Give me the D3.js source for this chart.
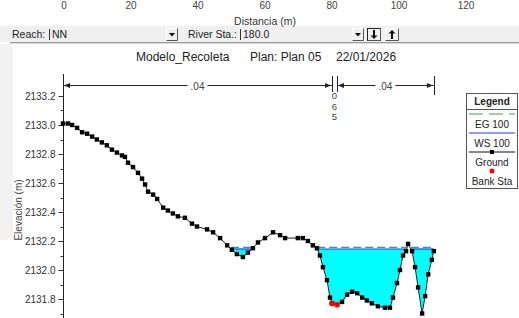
<!DOCTYPE html>
<html>
<head>
<meta charset="utf-8">
<script src="https://cdn.jsdelivr.net/npm/d3@7"></script>
<style>
  body{margin:0;background:#fff;}
  svg{display:block;font-family:"Liberation Sans",Arial,sans-serif;}
</style>
</head>
<body>
<svg id="chart" width="519" height="318"></svg>
<script>
'use strict'

// cross section data: station (m), elevation (m)
const stations = [0.0,1.5,2.7,4.2,5.7,7.2,8.7,10.1,11.6,13.1,14.6,16.1,17.6,18.5,19.4,20.9,22.4,23.6,24.5,25.4,
  26.9,28.1,29.9,31.3,32.8,34.3,36.4,38.5,40.0,43.0,44.8,46.9,49.0,50.4,51.9,53.7,55.2,56.7,58.2,60.3,
  62.7,64.8,66.3,70.1,71.6,73.1,74.6,75.8,76.7,77.6,78.8,79.7,80.3,81.8,83.3,84.8,86.3,87.8,89.3,90.7,
  92.2,94.0,96.1,97.6,98.5,99.7,100.6,101.5,102.4,103.0,104.2,105.1,106.0,107.2,108.1,109.0,110.1,110.7]
const elevations = [2133.01,2133.01,2133.00,2132.98,2132.95,2132.94,2132.92,2132.90,2132.88,2132.86,2132.83,2132.81,2132.79,2132.78,2132.74,2132.71,2132.67,2132.63,2132.59,2132.54,
  2132.52,2132.49,2132.43,2132.41,2132.39,2132.37,2132.36,2132.32,2132.30,2132.28,2132.26,2132.22,2132.17,2132.14,2132.11,2132.09,2132.12,2132.15,2132.19,2132.22,
  2132.26,2132.24,2132.22,2132.22,2132.22,2132.20,2132.17,2132.15,2132.10,2132.02,2131.93,2131.81,2131.77,2131.76,2131.78,2131.83,2131.85,2131.84,2131.81,2131.79,
  2131.77,2131.75,2131.74,2131.74,2131.81,2131.91,2132.00,2132.10,2132.13,2132.18,2132.13,2132.02,2131.88,2131.70,2131.82,2131.97,2132.07,2132.13]
const bankStations = [80.3, 81.8]
const wsElev = 2132.145   // WS 100
const egElev = 2132.156   // EG 100
// manning n regions
const nStarts = [0, 80.3, 81.8]
const nEnds = [80.3, 81.8, 110.7]
const nLabels = [".04", ".065", ".04"]
const yTicks = [2131.8, 2132.0, 2132.2, 2132.4, 2132.6, 2132.8, 2133.0, 2133.2]
const topTicks = [0, 20, 40, 60, 80, 100, 120]
const legendItems = ["EG 100", "WS 100", "Ground", "Bank Sta"]

const ground = stations.map((s,i)=>({s:s, z:elevations[i]}))

const svg = d3.select("#chart")
const x = d3.scaleLinear().domain([0,120]).range([63,465])
const y = d3.scaleLinear().domain([2131.8,2133.2]).range([299,96])

// window shadow on the left edge
svg.append("rect").attr("x",-6).attr("y",44).attr("width",19).attr("height",196)
  .attr("rx",7).attr("fill","#f2f2f2")

// tick labels of the plot behind (cut at the top)
svg.append("g").selectAll("text").data(topTicks).join("text")
  .attr("x",d=>x(d)+1).attr("y",9).attr("text-anchor","middle")
  .attr("font-size",10).attr("fill","#444").text(d=>d)

// toolbar
const bar = svg.append("g")
bar.append("rect").attr("x",0).attr("y",26).attr("width",519).attr("height",16).attr("fill","#f0f0f0")
bar.append("line").attr("x1",10).attr("x2",519).attr("y1",42.5).attr("y2",42.5).attr("stroke","#9a9a9a")
bar.append("line").attr("x1",10).attr("x2",519).attr("y1",43.5).attr("y2",43.5).attr("stroke","#dcdcdc")
svg.append("text").attr("x",265).attr("y",25).attr("text-anchor","middle")
  .attr("font-size",10.5).attr("fill","#333").text("Distancia (m)")
const tb = bar.append("g").attr("font-size",10.5).attr("fill","#222")
tb.append("text").attr("x",12).attr("y",38).text("Reach:")
tb.append("text").attr("x",52).attr("y",38).text("NN")
tb.append("text").attr("x",188).attr("y",38).text("River Sta.:")
tb.append("text").attr("x",243).attr("y",38).text("180.0")
bar.append("line").attr("x1",49.5).attr("x2",49.5).attr("y1",29).attr("y2",40).attr("stroke","#333")
bar.append("line").attr("x1",240.5).attr("x2",240.5).attr("y1",29).attr("y2",40).attr("stroke","#333")

function button(x0,w,glyph,pressed){
  const g = bar.append("g")
  g.append("rect").attr("x",x0+0.5).attr("y",28.5).attr("width",w).attr("height",12)
    .attr("fill","#f0f0f0").attr("stroke",pressed?"#222":"#fff")
  g.append("line").attr("x1",x0+w+0.5).attr("x2",x0+w+0.5).attr("y1",28.5).attr("y2",40.5).attr("stroke","#555")
  g.append("line").attr("x1",x0+0.5).attr("x2",x0+w+0.5).attr("y1",40.5).attr("y2",40.5).attr("stroke","#555")
  const cx = x0+w/2+0.5
  if (glyph==="tri") {
    g.append("path").attr("d",`M${cx-3},33 L${cx+3},33 L${cx},36.5 Z`).attr("fill","#111")
  } else {
    const dir = glyph==="down" ? 1 : -1
    const y0 = 34.5 - dir*4.5, y1 = 34.5 + dir*4.5
    g.append("line").attr("x1",cx).attr("x2",cx).attr("y1",y0).attr("y2",y1-dir*2)
      .attr("stroke","#111").attr("stroke-width",2)
    g.append("path").attr("d",`M${cx-3.5},${y1-dir*3.5} L${cx+3.5},${y1-dir*3.5} L${cx},${y1} Z`).attr("fill","#111")
  }
}
button(166,11,"tri")
button(352,11,"tri")
button(367,13,"down",true)
button(385,13,"up")

// title
const title = svg.append("g").attr("font-size",12).attr("fill","#222")
title.append("text").attr("x",136).attr("y",61).text("Modelo_Recoleta")
title.append("text").attr("x",250).attr("y",61).text("Plan: Plan 05")
title.append("text").attr("x",336).attr("y",61).text("22/01/2026")

// y axis
const yAxis = d3.axisLeft(y).tickValues(yTicks).tickFormat(d3.format(".1f")).tickSize(5).tickSizeOuter(0)
const gy = svg.append("g").attr("transform","translate(63.5,0)").call(yAxis)
gy.select(".domain").remove()
gy.selectAll("text").attr("font-size",10).attr("fill","#333").attr("font-family","Liberation Sans, Arial, sans-serif")
gy.selectAll("line").attr("stroke","#333")
gy.append("g").selectAll("line").data(d3.range(2131.7,2133.25,0.2)).join("line")
  .attr("x1",-3).attr("x2",0).attr("y1",d=>Math.round(y(d))+0.5).attr("y2",d=>Math.round(y(d))+0.5).attr("stroke","#333")
svg.append("line").attr("x1",63.5).attr("x2",63.5).attr("y1",74).attr("y2",318).attr("stroke","#222")
svg.append("text").attr("transform","translate(22,210) rotate(-90)").attr("text-anchor","middle")
  .attr("font-size",10).attr("fill","#444").text("Elevación (m)")

// manning n bar
const nG = svg.append("g").attr("stroke","#222").attr("fill","#222")
const nY = 85.5
function arrowHead(px,dir){
  nG.append("path").attr("stroke","none")
    .attr("d",`M${px},${nY} L${px-dir*6},${nY-2.5} L${px-dir*6},${nY+2.5} Z`)
}
nStarts.forEach((s,i)=>{
  const a = x(s), b = x(nEnds[i])
  if (i===1) {
    d3.range(3).forEach(k=>nG.append("text").attr("stroke","none").attr("fill","#444")
      .attr("x",(a+b)/2).attr("y",99+k*10.5).attr("text-anchor","middle").attr("font-size",9.5)
      .text(nLabels[i].replace(".","")[k]))
    return
  }
  const mid = (a+b)/2
  nG.append("line").attr("x1",a).attr("x2",mid-10).attr("y1",nY).attr("y2",nY)
  nG.append("line").attr("x1",mid+10).attr("x2",b).attr("y1",nY).attr("y2",nY)
  arrowHead(a+1,-1); arrowHead(b-1,1)
  nG.append("text").attr("stroke","none").attr("fill","#444").attr("x",mid).attr("y",nY+4)
    .attr("text-anchor","middle").attr("font-size",10).text(nLabels[i])
})
bankStations.concat([nEnds[2]]).forEach(s=>{
  nG.append("line").attr("x1",Math.round(x(s))+0.5).attr("x2",Math.round(x(s))+0.5)
    .attr("y1",76).attr("y2",s===nEnds[2]?95:92)
})

// wet areas below the water surface
function wetPolys(level){
  const polys = []
  let cur = null
  for (let i=0;i<ground.length;i++){
    const p = ground[i], wet = p.z < level
    if (i>0){
      const q = ground[i-1], wasWet = q.z < level
      if (wet!==wasWet){
        const t = (level-q.z)/(p.z-q.z)
        const c = {s:q.s+t*(p.s-q.s), z:level}
        if (wet){ cur=[c] } else { cur.push(c); polys.push(cur); cur=null }
      }
    } else if (wet){ cur=[{s:p.s,z:level}] }
    if (wet) cur.push(p)
  }
  if (cur){ cur.push({s:cur[cur.length-1].s,z:level}); polys.push(cur) }
  return polys
}
const pools = wetPolys(wsElev)
const line = d3.line().x(d=>x(d.s)).y(d=>y(d.z))
svg.append("g").selectAll("path").data(pools).join("path")
  .attr("d",d=>line(d)+"Z").attr("fill","#00ffff")
svg.append("g").selectAll("line").data(pools).join("line")
  .attr("x1",d=>x(d[0].s)).attr("x2",d=>x(d[d.length-1].s))
  .attr("y1",y(egElev)).attr("y2",y(egElev))
  .attr("stroke","#4f9a4f").attr("stroke-width",1.2).attr("stroke-dasharray","8,4")
svg.append("g").selectAll("line").data(pools).join("line")
  .attr("x1",d=>x(d[0].s)).attr("x2",d=>x(d[d.length-1].s))
  .attr("y1",y(wsElev)).attr("y2",y(wsElev))
  .attr("stroke","#1a3cff").attr("stroke-width",1.2)

// ground
svg.append("path").datum(ground).attr("d",line).attr("fill","none").attr("stroke","#222").attr("stroke-width",1)
svg.append("g").selectAll("rect").data(ground).join("rect")
  .attr("x",d=>x(d.s)-2.2).attr("y",d=>y(d.z)-2.2).attr("width",4.4).attr("height",4.4).attr("fill","#000")
svg.append("g").selectAll("circle").data(bankStations).join("circle")
  .attr("cx",d=>x(d)).attr("cy",d=>y(elevations[stations.indexOf(d)])).attr("r",2.8).attr("fill","#ff0000")

// legend
const lg = svg.append("g").attr("font-size",10).attr("fill","#222")
lg.append("rect").attr("x",466.5).attr("y",93.5).attr("width",51).attr("height",95)
  .attr("fill","#fff").attr("stroke","#555")
lg.append("text").attr("x",492).attr("y",105).attr("text-anchor","middle").attr("font-weight","bold").text("Legend")
lg.append("line").attr("x1",466).attr("x2",518).attr("y1",109.5).attr("y2",109.5).attr("stroke","#555")
const rowY = [114, 133, 152, 171]
legendItems.forEach((t,i)=>{
  lg.append("text").attr("x",492).attr("y",rowY[i]+14).attr("text-anchor","middle").text(t)
})
lg.append("line").attr("x1",469).attr("x2",515).attr("y1",rowY[0]).attr("y2",rowY[0])
  .attr("stroke","#4f9a4f").attr("stroke-width",1.2).attr("stroke-dasharray","14,6")
lg.append("line").attr("x1",469).attr("x2",515).attr("y1",rowY[1]).attr("y2",rowY[1])
  .attr("stroke","#1a3cff").attr("stroke-width",1.2)
lg.append("line").attr("x1",469).attr("x2",515).attr("y1",rowY[2]).attr("y2",rowY[2]).attr("stroke","#111")
lg.append("rect").attr("x",490).attr("y",rowY[2]-2).attr("width",4).attr("height",4).attr("fill","#000")
lg.append("circle").attr("cx",492).attr("cy",rowY[3]).attr("r",2.5).attr("fill","#ff0000")
</script>
</body>
</html>
